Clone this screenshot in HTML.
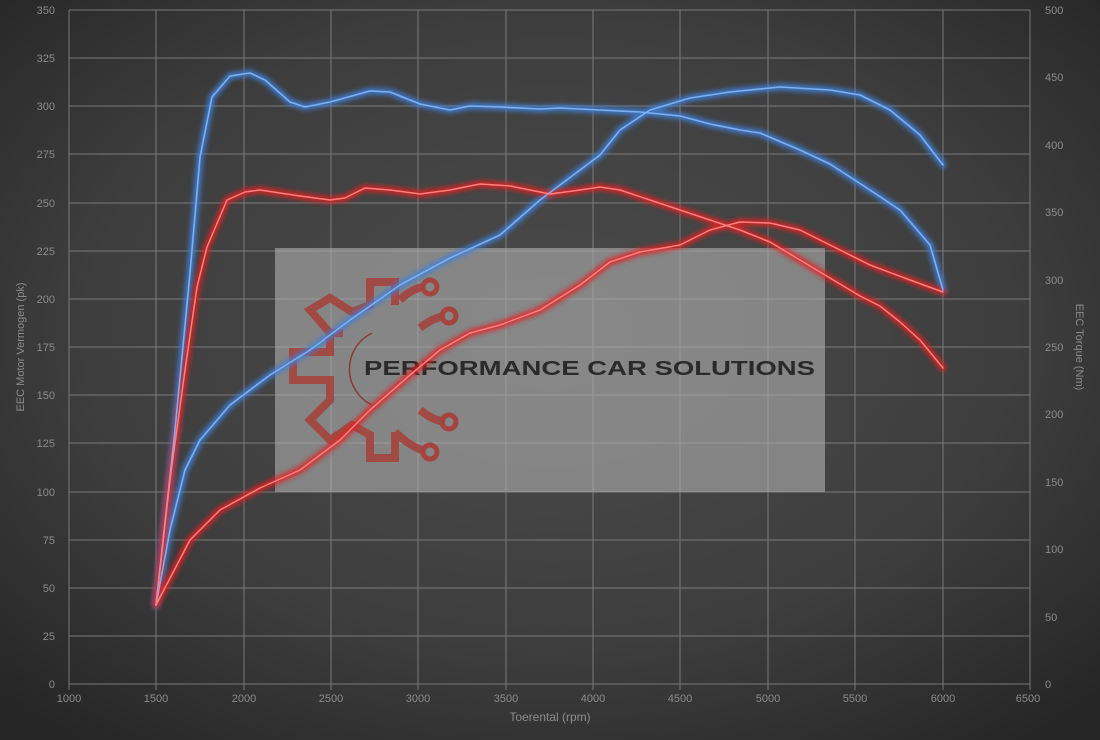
<!DOCTYPE html>
<html><head><meta charset="utf-8"><style>
html,body{margin:0;padding:0;background:#333;}
svg{display:block;font-family:"Liberation Sans",sans-serif;}
</style></head><body>
<svg width="1100" height="740" viewBox="0 0 1100 740" xmlns="http://www.w3.org/2000/svg">
<defs>
<radialGradient id="bg" cx="50%" cy="45%" r="70%">
<stop offset="0" stop-color="#4b4b4b"/><stop offset="0.6" stop-color="#3e3e3e"/><stop offset="1" stop-color="#262626"/>
</radialGradient>
<filter id="glow" x="-10%" y="-10%" width="120%" height="120%"><feGaussianBlur stdDeviation="2.5"/></filter>
</defs>
<rect width="1100" height="740" fill="url(#bg)"/>
<g stroke="#8a8a8a" stroke-width="1" opacity="0.8">
<line x1="69" x2="1030" y1="10" y2="10"/><line x1="69" x2="1030" y1="58" y2="58"/><line x1="69" x2="1030" y1="106" y2="106"/><line x1="69" x2="1030" y1="154" y2="154"/><line x1="69" x2="1030" y1="203" y2="203"/><line x1="69" x2="1030" y1="251" y2="251"/><line x1="69" x2="1030" y1="299" y2="299"/><line x1="69" x2="1030" y1="347" y2="347"/><line x1="69" x2="1030" y1="395" y2="395"/><line x1="69" x2="1030" y1="443" y2="443"/><line x1="69" x2="1030" y1="492" y2="492"/><line x1="69" x2="1030" y1="540" y2="540"/><line x1="69" x2="1030" y1="588" y2="588"/><line x1="69" x2="1030" y1="636" y2="636"/><line x1="69" x2="1030" y1="684" y2="684"/>
<line y1="10" y2="690" x1="69" x2="69"/><line y1="10" y2="690" x1="156" x2="156"/><line y1="10" y2="690" x1="244" x2="244"/><line y1="10" y2="690" x1="331" x2="331"/><line y1="10" y2="690" x1="418" x2="418"/><line y1="10" y2="690" x1="506" x2="506"/><line y1="10" y2="690" x1="593" x2="593"/><line y1="10" y2="690" x1="680" x2="680"/><line y1="10" y2="690" x1="768" x2="768"/><line y1="10" y2="690" x1="855" x2="855"/><line y1="10" y2="690" x1="943" x2="943"/><line y1="10" y2="690" x1="1030" x2="1030"/>
</g>
<rect x="275" y="248" width="550" height="244" fill="#b0b0b0" opacity="0.6"/>
<g fill="none" stroke="#a5443e" stroke-width="8" opacity="0.9" stroke-linejoin="miter">
<path d="M343,333 L330,333 L330,352 L293,352 L293,380 L330,380 L330,400 L310,420 L330,440 L352,425 L370,435 L370,458 L395,458 L395,432"/>
<path d="M395,305 L395,282 L370,282 L370,305 L352,312 L330,298 L310,310 L330,333"/>
<path d="M420,328 Q432,318 445,316"/><path d="M420,410 Q432,420 445,422"/>
<path d="M400,300 Q412,288 425,287"/><path d="M395,432 Q412,448 425,451"/>
</g>
<g fill="none" stroke="#a5443e" stroke-width="5"><circle cx="430" cy="287" r="7"/><circle cx="449" cy="316" r="7"/><circle cx="449" cy="422" r="7"/><circle cx="430" cy="452" r="7"/></g>
<path d="M372,333 A40,40 0 0,0 372,405" fill="none" stroke="#8a3a34" stroke-width="1.5"/>
<text x="364" y="375" font-size="20" font-weight="bold" textLength="451" lengthAdjust="spacingAndGlyphs" fill="#2a2a2a">PERFORMANCE CAR SOLUTIONS</text>
<g fill="none" stroke-linejoin="round" stroke-linecap="round">
<g stroke="#3f7fd8" stroke-width="7" filter="url(#glow)" opacity="0.85">
<polyline points="156,605 175,430 190,273 200,157 212,97 230,76 250,73 265,80 290,102 305,107 330,102 370,91 390,92 420,104 450,110 470,106 500,107 540,109 560,108 600,110 640,112 680,116 710,124 740,130 760,133 800,150 830,164 870,190 900,210 930,245 943,290"/>
<polyline points="156,605 170,530 185,470 200,440 230,405 270,375 310,350 350,320 400,285 450,258 500,235 540,200 580,170 600,155 620,130 650,110 690,98 730,92 780,87 830,90 860,95 890,110 920,135 943,165"/>
</g>
<g stroke="#e02020" stroke-width="7" filter="url(#glow)" opacity="0.85">
<polyline points="156,605 170,480 185,370 197,287 207,247 227,200 245,192 260,190 300,196 330,200 345,198 365,188 390,190 420,194 450,190 480,184 510,186 550,194 580,190 600,187 620,190 650,200 680,210 710,220 740,230 770,242 800,260 830,278 860,296 880,306 900,322 920,340 943,368"/>
<polyline points="156,605 190,540 220,510 260,488 300,470 340,440 370,410 410,375 440,350 470,333 500,325 540,310 580,285 610,262 640,252 680,245 710,230 740,222 770,223 800,230 830,245 870,265 910,280 943,292"/>
</g>
<g stroke="#7db0f0" stroke-width="1.6">
<polyline points="156,605 175,430 190,273 200,157 212,97 230,76 250,73 265,80 290,102 305,107 330,102 370,91 390,92 420,104 450,110 470,106 500,107 540,109 560,108 600,110 640,112 680,116 710,124 740,130 760,133 800,150 830,164 870,190 900,210 930,245 943,290"/>
<polyline points="156,605 170,530 185,470 200,440 230,405 270,375 310,350 350,320 400,285 450,258 500,235 540,200 580,170 600,155 620,130 650,110 690,98 730,92 780,87 830,90 860,95 890,110 920,135 943,165"/>
</g>
<g stroke="#ff8080" stroke-width="1.5">
<polyline points="156,605 170,480 185,370 197,287 207,247 227,200 245,192 260,190 300,196 330,200 345,198 365,188 390,190 420,194 450,190 480,184 510,186 550,194 580,190 600,187 620,190 650,200 680,210 710,220 740,230 770,242 800,260 830,278 860,296 880,306 900,322 920,340 943,368"/>
<polyline points="156,605 190,540 220,510 260,488 300,470 340,440 370,410 410,375 440,350 470,333 500,325 540,310 580,285 610,262 640,252 680,245 710,230 740,222 770,223 800,230 830,245 870,265 910,280 943,292"/>
</g>
</g>
<g fill="#8c8c8c" font-size="11">
<g text-anchor="end">
<text x="55" y="14">350</text><text x="55" y="62">325</text><text x="55" y="110">300</text><text x="55" y="158">275</text><text x="55" y="207">250</text><text x="55" y="255">225</text><text x="55" y="303">200</text><text x="55" y="351">175</text><text x="55" y="399">150</text><text x="55" y="447">125</text><text x="55" y="496">100</text><text x="55" y="544">75</text><text x="55" y="592">50</text><text x="55" y="640">25</text><text x="55" y="688">0</text>
</g>
<g text-anchor="start">
<text x="1045" y="14">500</text><text x="1045" y="81">450</text><text x="1045" y="149">400</text><text x="1045" y="216">350</text><text x="1045" y="284">300</text><text x="1045" y="351">250</text><text x="1045" y="418">200</text><text x="1045" y="486">150</text><text x="1045" y="553">100</text><text x="1045" y="621">50</text><text x="1045" y="688">0</text>
</g>
<g text-anchor="middle">
<text x="69" y="702">1000</text><text x="156" y="702">1500</text><text x="244" y="702">2000</text><text x="331" y="702">2500</text><text x="418" y="702">3000</text><text x="506" y="702">3500</text><text x="593" y="702">4000</text><text x="680" y="702">4500</text><text x="768" y="702">5000</text><text x="855" y="702">5500</text><text x="943" y="702">6000</text><text x="1028" y="702">6500</text>
</g>
<text x="550" y="721" text-anchor="middle" font-size="12">Toerental (rpm)</text>
<text transform="translate(24,347) rotate(-90)" text-anchor="middle" font-size="11">EEC Motor Vermogen (pk)</text>
<text transform="translate(1076,347) rotate(90)" text-anchor="middle" font-size="11">EEC Torque (Nm)</text>
</g>
</svg>
</body></html>
